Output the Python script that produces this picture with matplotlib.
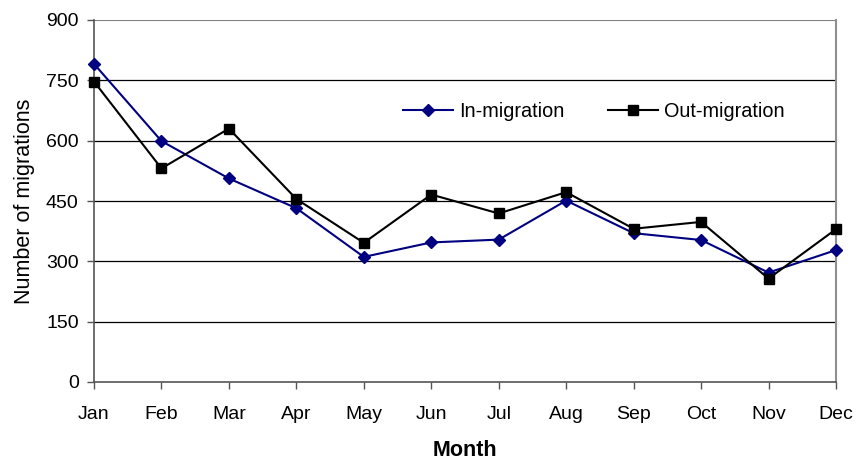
import matplotlib
matplotlib.use("Agg")
import matplotlib.pyplot as plt

months = ["Jan", "Feb", "Mar", "Apr", "May", "Jun", "Jul", "Aug", "Sep", "Oct", "Nov", "Dec"]
in_migration = [791, 599, 506, 432, 311, 347, 354, 451, 370, 353, 272, 328]
out_migration = [747, 531, 630, 455, 346, 466, 419, 472, 381, 398, 257, 380]
y_ticks = [0, 150, 300, 450, 600, 750, 900]

plt.rcParams['font.family'] = ['Liberation Sans', 'DejaVu Sans']

fig = plt.figure(figsize=(8.57, 4.62), dpi=100)
ax = fig.add_axes([94/857, 80/462, (836-94)/857, (382-20)/462])

x = list(range(len(months)))
ax.plot(x, in_migration, color="#000080", marker="D", markersize=6, linewidth=1.5,
        label="In-migration", clip_on=False, zorder=3)
ax.plot(x, out_migration, color="black", marker="s", markersize=7.5, linewidth=1.5,
        label="Out-migration", clip_on=False, zorder=4)

ax.set_xlim(0, len(months) - 1)
ax.set_ylim(0, 900)
ax.set_yticks(y_ticks)
ax.set_xticks(x)
ax.set_xticklabels(months)
for t in y_ticks[1:-1]:
    ax.axhline(t, color="black", linewidth=0.9, zorder=1)
ax.axhline(900, color="#808080", linewidth=1.5, zorder=1)

for s in ["left", "bottom"]:
    ax.spines[s].set_color("#555555")
    ax.spines[s].set_linewidth(1.2)
ax.spines["right"].set_color("#909090")
ax.spines["right"].set_linewidth(1.5)
ax.spines["top"].set_visible(False)

ax.tick_params(axis="both", labelsize=14, length=5, width=1, color="#555555", direction="out")
ax.tick_params(axis="y", pad=6)
ax.tick_params(axis="x", pad=12.5)
ax.set_ylabel("Number of migrations", fontsize=15.5, labelpad=8)
ax.set_xlabel("Month", fontsize=15.5, fontweight="bold", labelpad=12)

ax.legend(loc="center", bbox_to_anchor=(0.6735, 0.748), ncol=2, frameon=False, fontsize=14.3,
          handlelength=2.5, columnspacing=2.2, handletextpad=0.3, borderpad=0)

fig.savefig("out.png", dpi=100)
